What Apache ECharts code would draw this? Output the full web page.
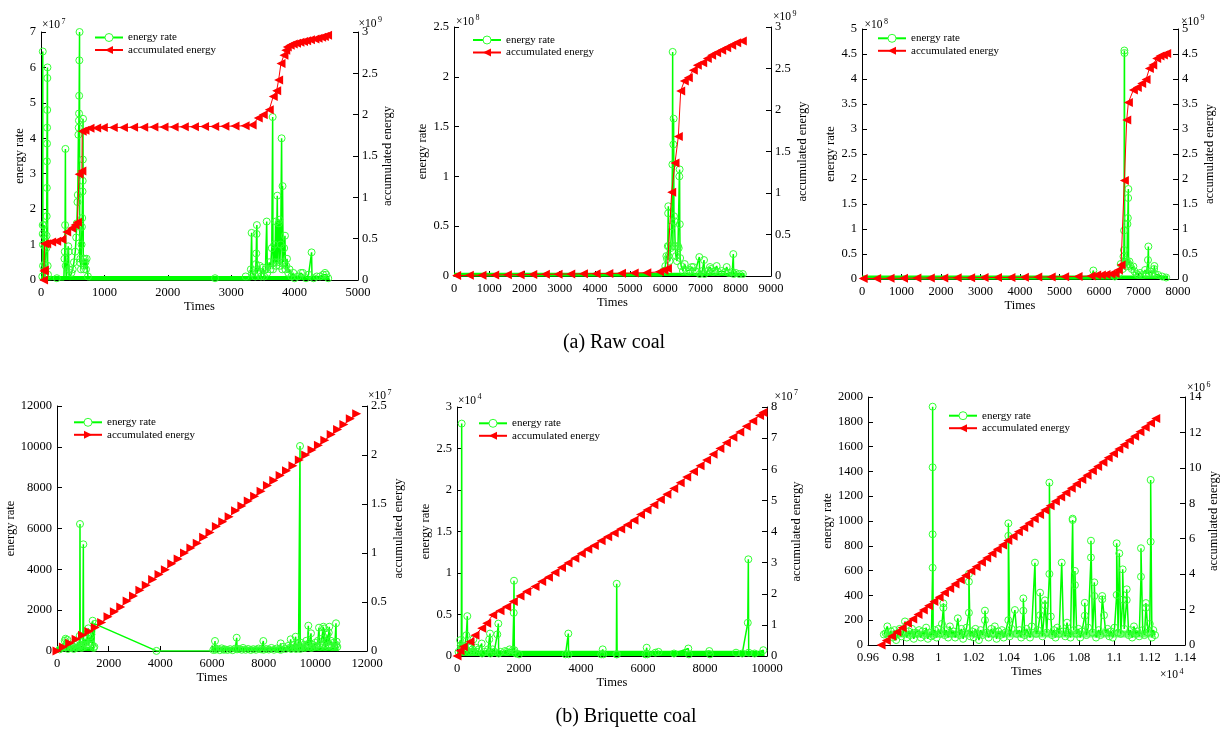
<!DOCTYPE html>
<html><head><meta charset="utf-8">
<script src="https://cdn.jsdelivr.net/npm/echarts@6/dist/echarts.min.js"></script>
<style>html,body{margin:0;padding:0;background:#fff}#c{width:1226px;height:735px}</style>
</head><body><div id="c"></div>
<script>
// ---------------- DATA ----------------
// (a) Raw coal, panel 1: rate in 1e7, accumulated in 1e9
const rate1 = [[0,0],[20,0.1],[27,1.55],[27,1.3],[28,6.45],[30,1.0],[32,0.4],[35,0],
[45,0],[50,1.55],[52,1.25],[55,0.95],[58,0.45],[60,0],
[80,0],[85,0.9],[88,1.25],[90,1.8],[92,2.6],[93,3.35],[95,3.85],[96,4.3],[98,4.8],[100,5.7],[102,6.0],[105,0.4],[110,0.15],[120,0],
[150,0],[250,0.05],[300,0],[360,0],[370,0.6],[375,0.8],[380,1.55],[385,3.7],[390,0.4],[400,0],
[420,0],[430,0.95],[435,0.8],[440,0.3],[450,0],[480,0.2],[500,0.3],[520,0.5],[540,0.8],[555,1.2],[565,1.6],[575,2.2],[580,2.4],
[590,4.1],[595,4.3],[598,4.5],[600,4.7],[602,5.2],[605,6.2],[608,7.0],[610,0.5],[615,1.5],[620,0.6],[630,0.3],[640,1.0],[645,1.5],
[650,1.75],[655,2.5],[658,2.8],[660,3.4],[663,4.55],[667,0.6],[675,0.3],[690,0.6],[700,0.5],[710,0.3],[720,0.6],[740,0.1],[760,0],
[2740,0],[2745,0.05],[2750,0],[3220,0],[3228,0.1],[3240,0],[3300,0],[3310,0.3],[3322,1.33],[3330,0.2],
[3380,0.1],[3390,0.45],[3395,0.75],[3400,1.3],[3405,1.55],[3410,0.2],[3450,0.4],[3470,0.1],[3500,0.35],[3520,0.1],[3540,0.3],
[3560,1.65],[3570,0.2],[3600,0.5],[3620,0.3],[3640,0.9],[3654,4.6],[3660,0.3],[3680,1.0],[3690,0.5],[3700,1.65],[3710,0.4],
[3727,2.38],[3735,0.5],[3750,1.6],[3758,1.7],[3765,0.4],[3780,1.0],[3795,4.0],[3805,0.3],[3810,2.65],[3820,0.5],[3835,0.9],
[3848,1.25],[3855,0.3],[3870,0.4],[3880,0.6],[3900,0.2],[3920,0.3],[3950,0.1],[3980,0.2],[4000,0.05],[4050,0.1],[4100,0.2],
[4130,0.2],[4180,0.05],[4220,0.15],[4268,0.78],[4275,0],[4300,0.05],[4350,0.1],[4400,0.1],[4450,0.15],[4480,0.2],[4500,0.15],[4530,0.05],[4550,0]];
const acc1 = [[40,0],[45,0.11],[52,0.12],[56,0.44],[90,0.44],[168,0.46],[247,0.47],[330,0.49],[405,0.58],[484,0.625],[536,0.665],
[575,0.70],[600,1.28],[645,1.32],[650,1.80],[694,1.81],[773,1.835],[878,1.84],[983,1.845],[1140,1.845],[1300,1.846],[1460,1.847],
[1620,1.848],[1780,1.85],[1940,1.851],[2100,1.852],[2260,1.853],[2420,1.855],[2580,1.857],[2740,1.858],[2900,1.86],[3060,1.862],
[3220,1.865],[3330,1.875],[3427,1.96],[3506,2.0],[3600,2.06],[3663,2.22],[3717,2.29],[3748,2.42],[3785,2.62],[3832,2.72],[3860,2.78],
[3884,2.82],[3930,2.84],[3979,2.855],[4030,2.865],[4084,2.875],[4140,2.885],[4190,2.895],[4250,2.905],[4321,2.915],[4370,2.925],
[4426,2.935],[4470,2.945],[4520,2.96]];
const band1 = [[0,4550,0.11]];

// panel 2: rate in 1e8, accumulated in 1e9
const rate2 = [[0,0],[5900,0],[5950,0.05],[6000,0.1],[6030,0.2],[6050,0.17],[6070,0.3],[6080,0.63],[6085,0.7],[6090,0.2],[6100,0.3],
[6120,0.15],[6150,0.28],[6180,0.5],[6200,1.12],[6208,2.25],[6215,0.3],[6228,1.32],[6235,1.58],[6245,0.6],[6260,0.55],[6280,0.3],
[6300,0.2],[6330,0.15],[6360,0.3],[6380,0.28],[6397,1.0],[6405,1.07],[6410,0.52],[6420,0.18],[6450,0.1],[6500,0.05],[6550,0.12],
[6600,0.05],[6650,0.04],[6700,0.06],[6748,0.09],[6794,0.09],[6850,0.05],[6900,0.04],[6965,0.19],[6975,0.02],[7050,0.05],[7098,0.16],
[7110,0.02],[7200,0.05],[7268,0.09],[7300,0.07],[7350,0.04],[7400,0.05],[7458,0.1],[7500,0.04],[7600,0.05],[7700,0.04],[7742,0.09],
[7800,0.03],[7900,0.04],[7930,0.22],[7940,0.02],[8000,0.03],[8100,0.02],[8200,0.02],[8250,0]];
const acc2 = [[75,0.005],[435,0.008],[795,0.01],[1155,0.012],[1515,0.014],[1875,0.016],[2235,0.018],[2595,0.02],[2955,0.022],
[3315,0.024],[3675,0.026],[4035,0.028],[4395,0.03],[4755,0.033],[5115,0.036],[5475,0.04],[5835,0.05],[5960,0.07],[6060,0.09],
[6180,1.01],[6274,1.36],[6369,1.68],[6436,2.23],[6539,2.35],[6653,2.39],[6794,2.48],[6908,2.54],[7060,2.57],[7192,2.62],[7315,2.66],
[7457,2.69],[7600,2.72],[7742,2.75],[7884,2.78],[8026,2.81],[8186,2.83]];
const band2 = [[0,8250,0.033]];

// panel 3: rate in 1e8, accumulated in 1e9
const rate3 = [[0,0],[5800,0],[5857,0.17],[5870,0],[6300,0],[6400,0.05],[6500,0.1],[6551,0.3],[6600,0.2],[6620,0.45],[6630,0.58],
[6635,0.97],[6642,4.57],[6645,4.52],[6650,0.3],[6670,0.38],[6690,0.25],[6710,0.35],[6720,1.1],[6730,1.22],[6738,1.62],[6743,1.8],
[6750,0.3],[6770,0.35],[6800,0.25],[6830,0.2],[6870,0.25],[6900,0.15],[6950,0.1],[7000,0.08],[7039,0.12],[7100,0.08],[7166,0.18],
[7200,0.1],[7240,0.38],[7250,0.65],[7260,0.1],[7300,0.15],[7350,0.1],[7395,0.2],[7402,0.26],[7420,0.1],[7500,0.08],[7600,0.05],
[7700,0.03],[7750,0]];
const acc3 = [[30,0.01],[370,0.012],[710,0.014],[1050,0.016],[1390,0.018],[1730,0.02],[2070,0.022],[2410,0.024],[2750,0.026],
[3090,0.028],[3430,0.03],[3770,0.032],[4110,0.035],[4450,0.038],[4790,0.042],[5130,0.046],[5470,0.05],[5800,0.06],[5942,0.08],
[6060,0.08],[6178,0.09],[6300,0.1],[6406,0.11],[6490,0.18],[6558,0.28],[6642,1.97],[6702,3.18],[6743,3.53],[6870,3.78],[6970,3.83],
[7081,3.91],[7191,3.99],[7276,4.21],[7360,4.28],[7461,4.41],[7545,4.46],[7630,4.48],[7714,4.51]];
const band3 = [[0,7750,0.07]];

// (b) Briquette coal, panel 4: rate raw, accumulated in 1e7
const rate4 = [[0,0],[100,80],[200,150],[300,500],[330,600],[350,200],[400,550],[420,100],[500,300],[550,150],[600,250],[650,100],
[700,300],[750,150],[800,400],[850,200],[880,745],[890,6220],[900,300],[950,150],[1000,300],[1020,5226],[1030,200],[1080,400],
[1100,600],[1150,300],[1190,900],[1212,1110],[1230,300],[1260,700],[1300,400],[1330,800],[1360,300],[1381,1484],[1420,150],
[1445,210],[1465,1330],[3850,5],[6000,0],[6050,50],[6100,150],[6116,490],[6130,60],[6200,100],[6300,40],[6375,130],[6450,60],
[6500,80],[6600,50],[6700,90],[6800,40],[6900,120],[6956,650],[6970,80],[7050,100],[7150,60],[7200,150],[7300,60],[7400,100],
[7500,50],[7600,90],[7700,60],[7800,120],[7900,80],[7987,490],[8000,60],[8100,100],[8200,70],[8300,150],[8400,60],[8500,120],
[8600,80],[8659,375],[8670,60],[8750,200],[8850,100],[8950,250],[9000,150],[9046,573],[9060,100],[9120,300],[9180,150],[9239,700],
[9250,100],[9300,350],[9350,150],[9400,200],[9407,10040],[9415,100],[9450,400],[9500,200],[9550,300],[9600,150],[9650,500],
[9700,300],[9729,1240],[9740,200],[9780,400],[9832,867],[9850,150],[9900,300],[9950,200],[10000,400],[10050,250],[10100,500],
[10142,1143],[10160,200],[10200,350],[10250,600],[10309,1190],[10320,300],[10350,1100],[10380,200],[10420,450],[10460,800],
[10480,250],[10520,900],[10541,1190],[10560,300],[10600,500],[10650,200],[10700,400],[10750,200],[10800,1357],[10810,300],
[10826,456],[10850,200],[10880,0]];
const acc4 = [[0,0],[247,0.04],[494,0.08],[740,0.12],[987,0.16],[1234,0.20],[1481,0.24],[1728,0.29],[1974,0.35],[2221,0.40],
[2468,0.45],[2715,0.51],[2962,0.56],[3209,0.62],[3455,0.67],[3702,0.73],[3949,0.78],[4196,0.83],[4443,0.89],[4689,0.94],[4936,1.00],
[5183,1.05],[5430,1.10],[5677,1.16],[5923,1.21],[6170,1.27],[6417,1.32],[6664,1.37],[6911,1.43],[7157,1.48],[7404,1.53],[7651,1.58],
[7898,1.63],[8145,1.69],[8391,1.74],[8638,1.79],[8885,1.84],[9132,1.89],[9379,1.95],[9626,2.00],[9872,2.05],[10119,2.10],
[10366,2.15],[10613,2.21],[10860,2.26],[11106,2.31],[11353,2.37],[11600,2.42]];
const band4 = [[0,1450,200],[6000,10880,180]];

// panel 5: rate in 1e4, accumulated in 1e7
const rate5 = [[0,0],[50,0.05],[100,0.19],[120,0.13],[140,0.1],[151,2.8],[160,0.1],[200,0.05],[250,0.12],[300,0.25],[333,0.48],
[345,0.05],[380,0.1],[420,0.11],[450,0.05],[500,0.08],[527,0.2],[540,0.05],[600,0.1],[650,0.05],[700,0.08],[797,0.15],[810,0.03],
[900,0.05],[1000,0.08],[1040,0.2],[1065,0.27],[1080,0.03],[1150,0.08],[1200,0.05],[1300,0.26],[1333,0.39],[1345,0.03],[1400,0.05],
[1548,0.06],[1600,0.05],[1700,0.08],[1800,0.07],[1830,0.52],[1839,0.907],[1850,0.07],[1900,0.03],[2000,0.02],[3500,0.02],
[3591,0.27],[3600,0.02],[4650,0.02],[4700,0.08],[4720,0.02],[5140,0.02],[5152,0.87],[5165,0.02],[6080,0.02],[6119,0.1],[6140,0.02],
[6400,0.04],[6500,0.05],[7000,0.03],[7462,0.09],[7480,0.02],[8140,0.06],[8160,0.02],[9000,0.04],[9200,0.03],[9380,0.40],
[9398,1.165],[9410,0.04],[9600,0.03],[9881,0.07],[9900,0]];
const acc5 = [[0,0],[97,0.17],[204,0.3],[420,0.46],[581,0.67],[796,0.89],[958,1.05],[1151,1.32],[1387,1.45],[1602,1.58],[1817,1.75],
[2032,1.93],[2248,2.07],[2516,2.23],[2732,2.39],[2950,2.53],[3160,2.68],[3370,2.84],[3580,2.99],[3800,3.14],[4010,3.29],[4220,3.43],
[4430,3.55],[4650,3.7],[4860,3.83],[5070,3.95],[5280,4.08],[5500,4.22],[5710,4.36],[5920,4.55],[6130,4.69],[6350,4.86],[6560,5.03],
[6770,5.2],[6990,5.38],[7200,5.57],[7410,5.75],[7630,5.93],[7840,6.11],[8050,6.3],[8260,6.48],[8480,6.67],[8690,6.85],[8900,7.03],
[9120,7.2],[9330,7.38],[9540,7.55],[9760,7.73],[9870,7.82]];
const band5 = [[0,9900,0.064]];

// panel 6: rate raw, accumulated in 1e6, time raw (axis shown in 1e4)
const rate6 = [[9690,85],[9700,95],[9710,150],[9720,70],[9730,110],[9740,60],[9750,120],[9760,40],[9770,90],[9780,130],[9790,70],
[9800,100],[9810,190],[9820,60],[9830,110],[9840,80],[9850,130],[9860,50],[9870,100],[9880,90],[9890,120],[9900,60],[9910,110],
[9920,80],[9930,140],[9940,50],[9950,100],[9960,70],[9967,623],[9967,893],[9967,1433],[9967,1922],[9970,80],[9980,120],[9990,60],
[10000,130],[10010,90],[10020,170],[10028,300],[10028,336],[10035,80],[10045,120],[10055,60],[10065,150],[10075,90],[10085,110],
[10095,60],[10110,215],[10120,80],[10130,130],[10140,50],[10150,100],[10160,140],[10173,260],[10173,511],[10173,573],[10180,70],
[10190,110],[10200,60],[10210,130],[10220,90],[10230,40],[10240,120],[10250,80],[10264,200],[10264,277],[10275,100],[10285,60],
[10300,130],[10310,90],[10320,150],[10330,50],[10340,110],[10350,80],[10360,120],[10370,60],[10380,100],[10397,200],[10397,880],
[10397,981],[10405,70],[10415,130],[10434,282],[10445,90],[10460,120],[10470,60],[10482,276],[10482,376],[10490,80],[10500,130],
[10510,100],[10520,60],[10530,150],[10548,664],[10555,90],[10565,120],[10577,240],[10577,422],[10590,70],[10605,320],[10605,360],
[10615,100],[10630,573],[10630,1309],[10638,230],[10645,80],[10655,120],[10665,60],[10675,140],[10685,90],[10700,664],[10710,110],
[10720,70],[10730,180],[10740,100],[10750,60],[10762,1008],[10762,1019],[10768,120],[10775,483],[10775,597],[10785,90],[10795,130],
[10805,60],[10815,110],[10831,236],[10831,340],[10840,80],[10850,140],[10866,706],[10866,841],[10875,100],[10885,395],[10885,505],
[10895,60],[10910,120],[10920,80],[10930,368],[10930,395],[10940,240],[10950,100],[10960,130],[10970,70],[10980,110],[10990,60],
[11000,140],[11012,404],[11012,820],[11020,100],[11027,739],[11035,90],[11046,366],[11046,610],[11055,130],[11069,363],[11069,449],
[11080,80],[11090,120],[11100,60],[11110,150],[11120,90],[11130,110],[11140,70],[11150,551],[11150,780],[11160,120],[11170,80],
[11178,300],[11178,338],[11190,100],[11200,170],[11205,833],[11205,1331],[11212,60],[11220,120],[11230,80]];
const acc6 = [[9674,0],[9704,0.25],[9734,0.49],[9764,0.74],[9794,0.98],[9824,1.23],[9854,1.47],[9884,1.72],[9914,1.97],[9944,2.21],
[9974,2.46],[10004,2.70],[10034,2.95],[10064,3.19],[10094,3.44],[10124,3.69],[10154,3.93],[10184,4.18],[10214,4.42],[10244,4.67],
[10274,4.91],[10304,5.16],[10334,5.41],[10364,5.65],[10394,5.90],[10424,6.14],[10454,6.39],[10484,6.63],[10514,6.88],[10544,7.13],
[10574,7.37],[10604,7.62],[10634,7.86],[10664,8.11],[10694,8.35],[10724,8.60],[10754,8.85],[10784,9.09],[10814,9.34],[10844,9.58],
[10874,9.83],[10904,10.07],[10934,10.32],[10964,10.57],[10994,10.81],[11024,11.06],[11054,11.30],[11084,11.55],[11114,11.79],
[11144,12.04],[11174,12.29],[11204,12.53],[11234,12.78]];
const band6 = [];
// dense noise strip of panel 6: [start, end, mean level]
const strip6 = [[9690,11230,88]];

// axis ranges [min,max,interval]
const xRange = [[0,5000,1000],[0,9000,1000],[0,8000,1000],[0,12000,2000],[0,10000,2000],[9600,11400,200]];
const yLRange = [[0,7,1],[0,2.5,0.5],[0,5,0.5],[0,12000,2000],[0,3,0.5],[0,2000,200]];
const yRRange = [[0,3,0.5],[0,3,0.5],[0,5,0.5],[0,2.5,0.5],[0,8,1],[0,14,2]];

// ---------------- LAYOUT / STYLE ----------------
const FONT = "'Liberation Serif','Times New Roman',serif";
const GREEN = '#00ff00', RING = '#33ff33', RED = '#ff0000', BLACK = '#000';
const plain = v => String(Number(v.toFixed(4)));
const panels = [
  {grid:[41,32,317,248], rate:rate1, acc:acc1, band:band1, strip:[], rot:90, leg:[94,32], gL:14, gR:23, gX:19},
  {grid:[454,27,317,249], rate:rate2, acc:acc2, band:band2, strip:[], rot:90, leg:[472,34.5], gL:21, gR:25, gX:19},
  {grid:[862,29,316,250], rate:rate3, acc:acc3, band:band3, strip:[], rot:90, leg:[877,32.8], gL:20.5, gR:25, gX:19},
  {grid:[57,406,310,245], rate:rate4, acc:acc4, band:band4, strip:[], rot:-90, leg:[73,416.8], gL:35.5, gR:25, gX:19},
  {grid:[457,407,310,249], rate:rate5, acc:acc5, band:band5, strip:[], rot:90, leg:[478,417.8], gL:21, gR:23.5, gX:20},
  {grid:[868,397,317,248], rate:rate6, acc:acc6, band:band6, strip:strip6, rot:90, leg:[948,410.2], gL:30, gR:22, gX:20, xFmt: v => plain(v/1e4)}
];
// exponent labels: [x, y, sup]
const expo = [
  [42,25,'7'],[358.5,23.7,'9'],
  [456,21.7,'8'],[773,17,'9'],
  [864.5,25,'8'],[1181,21.7,'9'],
  [368,396,'7'],
  [458,400.7,'4'],[774.5,396.7,'7'],
  [1187,388.3,'6'],[1160,675,'4']
];

const nameStyle = {fontFamily:FONT, fontSize:12.5, color:BLACK};
const labelStyle = (m, f) => ({color:BLACK, fontFamily:FONT, fontSize:12.5, margin:m, showMinLabel:true, showMaxLabel:true, formatter: f || plain});
const lineAx = {show:true, onZero:false, lineStyle:{color:BLACK, width:1}};
const tickAx = {show:true, inside:true, length:5, lineStyle:{color:BLACK, width:1}};

const option = {animation:false, backgroundColor:'#fff', grid:[], xAxis:[], yAxis:[], series:[], legend:[], graphic:[]};

panels.forEach((p, i) => {
  option.grid.push({left:p.grid[0], top:p.grid[1], width:p.grid[2], height:p.grid[3], containLabel:false, outerBoundsMode:'none'});
  const xr = xRange[i], yl = yLRange[i], yr = yRRange[i];
  option.xAxis.push({gridIndex:i, type:'value', min:xr[0], max:xr[1], interval:xr[2],
    axisLine:lineAx, axisTick:tickAx, splitLine:{show:false}, axisLabel:labelStyle(6, p.xFmt),
    name:'Times', nameLocation:'middle', nameGap:p.gX, nameTextStyle:nameStyle});
  option.yAxis.push({gridIndex:i, type:'value', position:'left', min:yl[0], max:yl[1], interval:yl[2],
    axisLine:lineAx, axisTick:tickAx, splitLine:{show:false}, axisLabel:labelStyle(5),
    name:'energy rate', nameLocation:'middle', nameGap:p.gL, nameRotate:90, nameTextStyle:nameStyle});
  option.yAxis.push({gridIndex:i, type:'value', position:'right', min:yr[0], max:yr[1], interval:yr[2],
    axisLine:lineAx, axisTick:tickAx, splitLine:{show:false}, axisLabel:labelStyle(4),
    name:'accumulated energy', nameLocation:'middle', nameGap:p.gR, nameRotate:90, nameTextStyle:nameStyle});

  p.band.forEach(b => {
    option.series.push({type:'line', xAxisIndex:i, yAxisIndex:2*i, data:[[b[0],b[2]],[b[1],b[2]]],
      symbol:'none', silent:true, lineStyle:{width:0, color:GREEN}, areaStyle:{color:GREEN, opacity:1}, z:1});
  });
  p.strip.forEach(b => {
    option.series.push({type:'line', xAxisIndex:i, yAxisIndex:2*i, data:[[b[0],b[2]],[b[1],b[2]]],
      symbol:'none', silent:true, lineStyle:{width:7, color:GREEN, opacity:0.55}, z:1});
  });
  const rn = 'energy rate|' + i, an = 'accumulated energy|' + i;
  option.series.push({type:'line', name:rn, xAxisIndex:i, yAxisIndex:2*i,
    data:p.rate.map(d => d[1] === 0 ? {value:d, symbol:'none'} : d),
    symbol:'circle', symbolSize:7, showSymbol:true, lineStyle:{color:GREEN, width:1.5},
    itemStyle:{color:'rgba(255,255,255,0)', borderColor:RING, borderWidth:1}, z:2});
  option.series.push({type:'line', name:an, xAxisIndex:i, yAxisIndex:2*i+1, data:p.acc,
    symbol:'triangle', symbolSize:9, symbolRotate:p.rot, showSymbol:true,
    lineStyle:{color:RED, width:1}, itemStyle:{color:RED}, z:3});
  option.legend.push({orient:'vertical', left:p.leg[0], top:p.leg[1], padding:0, itemGap:1.5,
    itemWidth:28, itemHeight:10, selectedMode:false,
    data:[{name:rn, itemStyle:{color:'#fff', borderColor:RING, borderWidth:1}}, an],
    formatter: n => n.split('|')[0], textStyle:{fontFamily:FONT, fontSize:11, color:BLACK}});
});

expo.forEach(e => {
  option.graphic.push({type:'text', x:e[0], y:e[1], silent:true,
    style:{text:'×10', fontFamily:FONT, fontSize:11.5, fill:BLACK, align:'left', verticalAlign:'middle'}});
  option.graphic.push({type:'text', x:e[0]+19.5, y:e[1]-3.5, silent:true,
    style:{text:e[2], fontFamily:FONT, fontSize:8, fill:BLACK, align:'left', verticalAlign:'middle'}});
});
option.graphic.push({type:'text', x:614, y:343, silent:true,
  style:{text:'(a) Raw coal', fontFamily:FONT, fontSize:20, fill:BLACK, align:'center', verticalAlign:'middle'}});
option.graphic.push({type:'text', x:626, y:717, silent:true,
  style:{text:'(b) Briquette coal', fontFamily:FONT, fontSize:20, fill:BLACK, align:'center', verticalAlign:'middle'}});

const chart = echarts.init(document.getElementById('c'), null, {renderer:'canvas'});
chart.setOption(option);
</script>
</body></html>
